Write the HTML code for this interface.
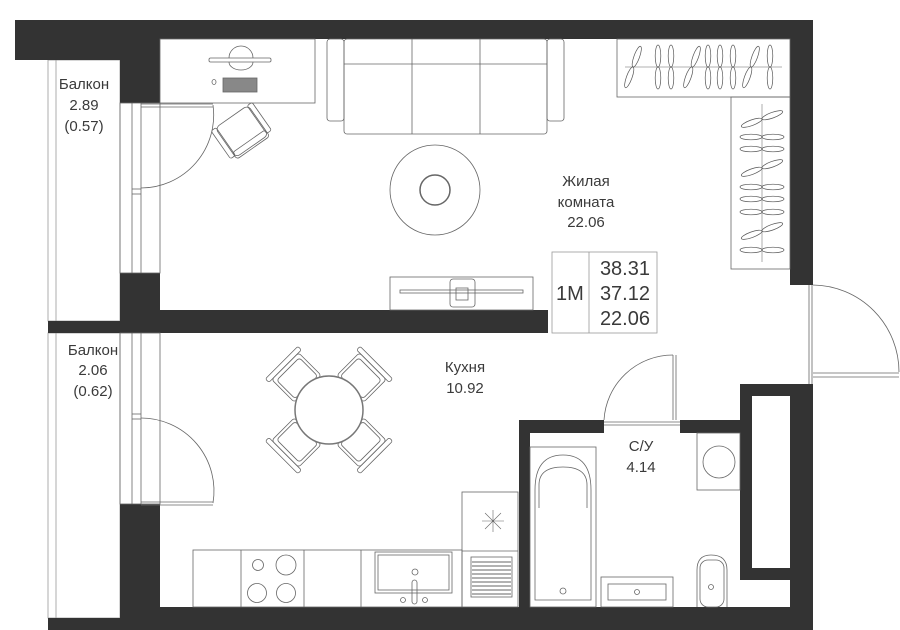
<!DOCTYPE html>
<html><head><meta charset="utf-8"><style>
html,body{margin:0;padding:0;background:#fff;}
svg{display:block;}
text{font-family:"Liberation Sans","DejaVu Sans",sans-serif;fill:#3a3a3a;}
</style></head><body>
<svg width="900" height="630" viewBox="0 0 900 630" xmlns="http://www.w3.org/2000/svg">
<defs>
<g id="hv" fill="none" stroke="#555" stroke-width="0.7">
<ellipse cx="0" cy="-11" rx="2.8" ry="11"/><ellipse cx="0" cy="11" rx="2.8" ry="11"/>
</g>
<g id="chair" fill="none" stroke="#666" stroke-width="0.8">
<rect x="-19" y="-62" width="38" height="32" rx="3"/>
<rect x="-16" y="-58" width="32" height="26" rx="3"/>
<rect x="-23" y="-67" width="46" height="5" rx="2"/>
</g>
</defs>
<g fill="none" stroke="#999" stroke-width="0.8">
<rect x="48" y="60" width="72" height="261"/>
<line x1="56" y1="60" x2="56" y2="321"/>
<rect x="48" y="333" width="72" height="285"/>
<line x1="56" y1="333" x2="56" y2="618"/>
</g>
<g fill="#333">
<rect x="15" y="20" width="798" height="19"/>
<rect x="15" y="39" width="145" height="21"/>
<rect x="120" y="60" width="40" height="43"/>
<rect x="790" y="39" width="23" height="246"/>
<rect x="120" y="273" width="40" height="48"/>
<rect x="48" y="321" width="112" height="12"/>
<rect x="160" y="310" width="388" height="23"/>
<rect x="120" y="504" width="40" height="114"/>
<rect x="48" y="618" width="765" height="12"/>
<rect x="120" y="607" width="693" height="23"/>
<rect x="740" y="384" width="73" height="196"/>
<rect x="790" y="568" width="23" height="50"/>
<rect x="519" y="420" width="11" height="190"/>
<rect x="519" y="420" width="85" height="13"/>
<rect x="680" y="420" width="70" height="13"/>
</g>
<rect x="752" y="396" width="38" height="172" fill="#fff"/>
<g fill="none" stroke="#666" stroke-width="0.8">
<rect x="120" y="103" width="40" height="170"/>
<line x1="132" y1="103" x2="132" y2="273"/><line x1="141" y1="103" x2="141" y2="273"/>
<line x1="132" y1="189" x2="141" y2="189"/><line x1="132" y1="194" x2="141" y2="194"/>
<rect x="120" y="333" width="40" height="171"/>
<line x1="132" y1="333" x2="132" y2="504"/><line x1="141" y1="333" x2="141" y2="504"/>
<line x1="132" y1="414" x2="141" y2="414"/><line x1="132" y1="419" x2="141" y2="419"/>
<path d="M213 105 A73 73 0 0 1 141 188"/>
<line x1="141" y1="104" x2="213" y2="104"/><line x1="141" y1="107" x2="213" y2="107"/>
<path d="M141 418 A73 73 0 0 1 213 503"/>
<line x1="141" y1="502" x2="213" y2="502"/><line x1="141" y1="505" x2="213" y2="505"/>
<path d="M813 285 A87 87 0 0 1 899 372"/>
<line x1="813" y1="373" x2="899" y2="373"/><line x1="813" y1="377" x2="899" y2="377"/>
<line x1="809" y1="285" x2="809" y2="384"/><line x1="812" y1="285" x2="812" y2="384"/>
<path d="M673 355 A69 69 0 0 0 604 420"/>
<line x1="673" y1="355" x2="673" y2="420"/><line x1="676" y1="355" x2="676" y2="420"/>
<line x1="604" y1="422" x2="680" y2="422"/><line x1="604" y1="425" x2="680" y2="425"/>
<rect x="160" y="39" width="155" height="64"/>
<rect x="209" y="58" width="62" height="4" rx="1.5"/>
<path d="M229 58 A12 12 0 0 1 253 58"/><path d="M229 62 A12 8 0 0 0 253 62"/>
<rect x="223" y="78" width="34" height="14" fill="#888"/>
<ellipse cx="214" cy="82" rx="2" ry="2.5"/>
<g transform="translate(243,133) rotate(-35)">
<rect x="-20" y="-20" width="40" height="36" rx="5"/>
<rect x="-20" y="10" width="40" height="8" rx="3"/>
<rect x="-25" y="-20" width="6" height="34" rx="2"/><rect x="19" y="-20" width="6" height="34" rx="2"/>
</g>
<rect x="344" y="39" width="203" height="95" rx="3"/>
<line x1="344" y1="64" x2="547" y2="64"/>
<line x1="412" y1="39" x2="412" y2="134"/><line x1="480" y1="39" x2="480" y2="134"/>
<rect x="327" y="39" width="17" height="82" rx="3"/><rect x="547" y="39" width="17" height="82" rx="3"/>
<circle cx="435" cy="190" r="45"/><circle cx="435" cy="190" r="15" stroke-width="1.5"/>
<rect x="390" y="277" width="143" height="33"/>
<rect x="400" y="290" width="123" height="3"/>
<rect x="450" y="279" width="25" height="28" rx="3"/>
<rect x="456" y="288" width="12" height="12"/>
<rect x="617" y="39" width="173" height="58"/>
<line x1="625" y1="67" x2="782" y2="67" stroke="#999"/>
<rect x="731" y="97" width="59" height="172"/>
<line x1="762" y1="104" x2="762" y2="262" stroke="#999"/>
</g>
<g>
<use href="#hv" transform="translate(633,67) rotate(20)"/>
<use href="#hv" transform="translate(658,67)"/>
<use href="#hv" transform="translate(671,67)"/>
<use href="#hv" transform="translate(692,67) rotate(20)"/>
<use href="#hv" transform="translate(708,67)"/>
<use href="#hv" transform="translate(720,67)"/>
<use href="#hv" transform="translate(733,67)"/>
<use href="#hv" transform="translate(751,67) rotate(20)"/>
<use href="#hv" transform="translate(770,67)"/>
<use href="#hv" transform="translate(762,119) rotate(70)"/>
<use href="#hv" transform="translate(762,137) rotate(90)"/>
<use href="#hv" transform="translate(762,149) rotate(90)"/>
<use href="#hv" transform="translate(762,168) rotate(70)"/>
<use href="#hv" transform="translate(762,187) rotate(90)"/>
<use href="#hv" transform="translate(762,199) rotate(90)"/>
<use href="#hv" transform="translate(762,212) rotate(90)"/>
<use href="#hv" transform="translate(762,231) rotate(70)"/>
<use href="#hv" transform="translate(762,250) rotate(90)"/>
</g>
<g fill="none" stroke="#999" stroke-width="0.8">
<rect x="552" y="252" width="105" height="81"/><line x1="589" y1="252" x2="589" y2="333"/>
</g>
<g transform="translate(329,410)">
<use href="#chair" transform="rotate(-45)"/><use href="#chair" transform="rotate(45)"/>
<use href="#chair" transform="rotate(135)"/><use href="#chair" transform="rotate(-135)"/>
<circle r="34" fill="#fff" stroke="#777" stroke-width="1.5"/>
</g>
<g fill="none" stroke="#666" stroke-width="0.8">
<rect x="193" y="550" width="269" height="57"/>
<line x1="241" y1="550" x2="241" y2="607"/><line x1="304" y1="550" x2="304" y2="607"/><line x1="361" y1="550" x2="361" y2="607"/>
<circle cx="258" cy="565" r="5.5"/><circle cx="286" cy="565" r="10"/>
<circle cx="257" cy="593" r="9.5"/><circle cx="286" cy="593" r="9.5"/>
<rect x="375" y="552" width="77" height="41"/><rect x="378" y="555" width="71" height="35"/>
<circle cx="415" cy="572" r="3"/><rect x="412" y="580" width="5" height="24" rx="2.5"/>
<circle cx="403" cy="600" r="2.5"/><circle cx="425" cy="600" r="2.5"/>
<rect x="462" y="492" width="56" height="115"/><line x1="462" y1="551" x2="518" y2="551"/>
<path d="M493 510 v22 M482 521 h22 M485 513 l16 16 M501 513 l-16 16" stroke-width="0.6"/>
<rect x="471" y="557" width="41" height="40"/>
<path d="M472 562h39M472 566h39M472 570h39M472 574h39M472 578h39M472 582h39M472 586h39M472 590h39M472 594h39" stroke-width="1"/>
<rect x="530" y="447" width="66" height="160"/>
<path d="M535 600 V490 Q535 455 563 455 Q591 455 591 490 V600 Z"/>
<path d="M539 508 V485 Q539 467 563 467 Q587 467 587 485 V508"/>
<circle cx="563" cy="591" r="3"/>
<rect x="601" y="577" width="72" height="30"/><rect x="608" y="584" width="58" height="16"/>
<circle cx="637" cy="592" r="2.5"/>
<path d="M697 607 V570 Q697 555 711 555 Q727 555 727 570 V607"/>
<rect x="700" y="560" width="24" height="47" rx="8"/>
<circle cx="711" cy="587" r="2.5"/>
<rect x="697" y="433" width="43" height="57"/><circle cx="719" cy="462" r="16"/>
</g>
<g font-size="15" text-anchor="middle">
<text x="84" y="89">Балкон</text><text x="84" y="110">2.89</text><text x="84" y="131">(0.57)</text>
<text x="93" y="355">Балкон</text><text x="93" y="375">2.06</text><text x="93" y="396">(0.62)</text>
<text x="586" y="186">Жилая</text><text x="586" y="207">комната</text><text x="586" y="227">22.06</text>
<text x="465" y="372">Кухня</text><text x="465" y="393">10.92</text>
<text x="641" y="451">С/У</text><text x="641" y="472">4.14</text>
</g>
<g font-size="20">
<text x="556" y="300">1M</text>
<text x="650" y="275" text-anchor="end">38.31</text>
<text x="650" y="300" text-anchor="end">37.12</text>
<text x="650" y="325" text-anchor="end">22.06</text>
</g>
</svg>
</body></html>
